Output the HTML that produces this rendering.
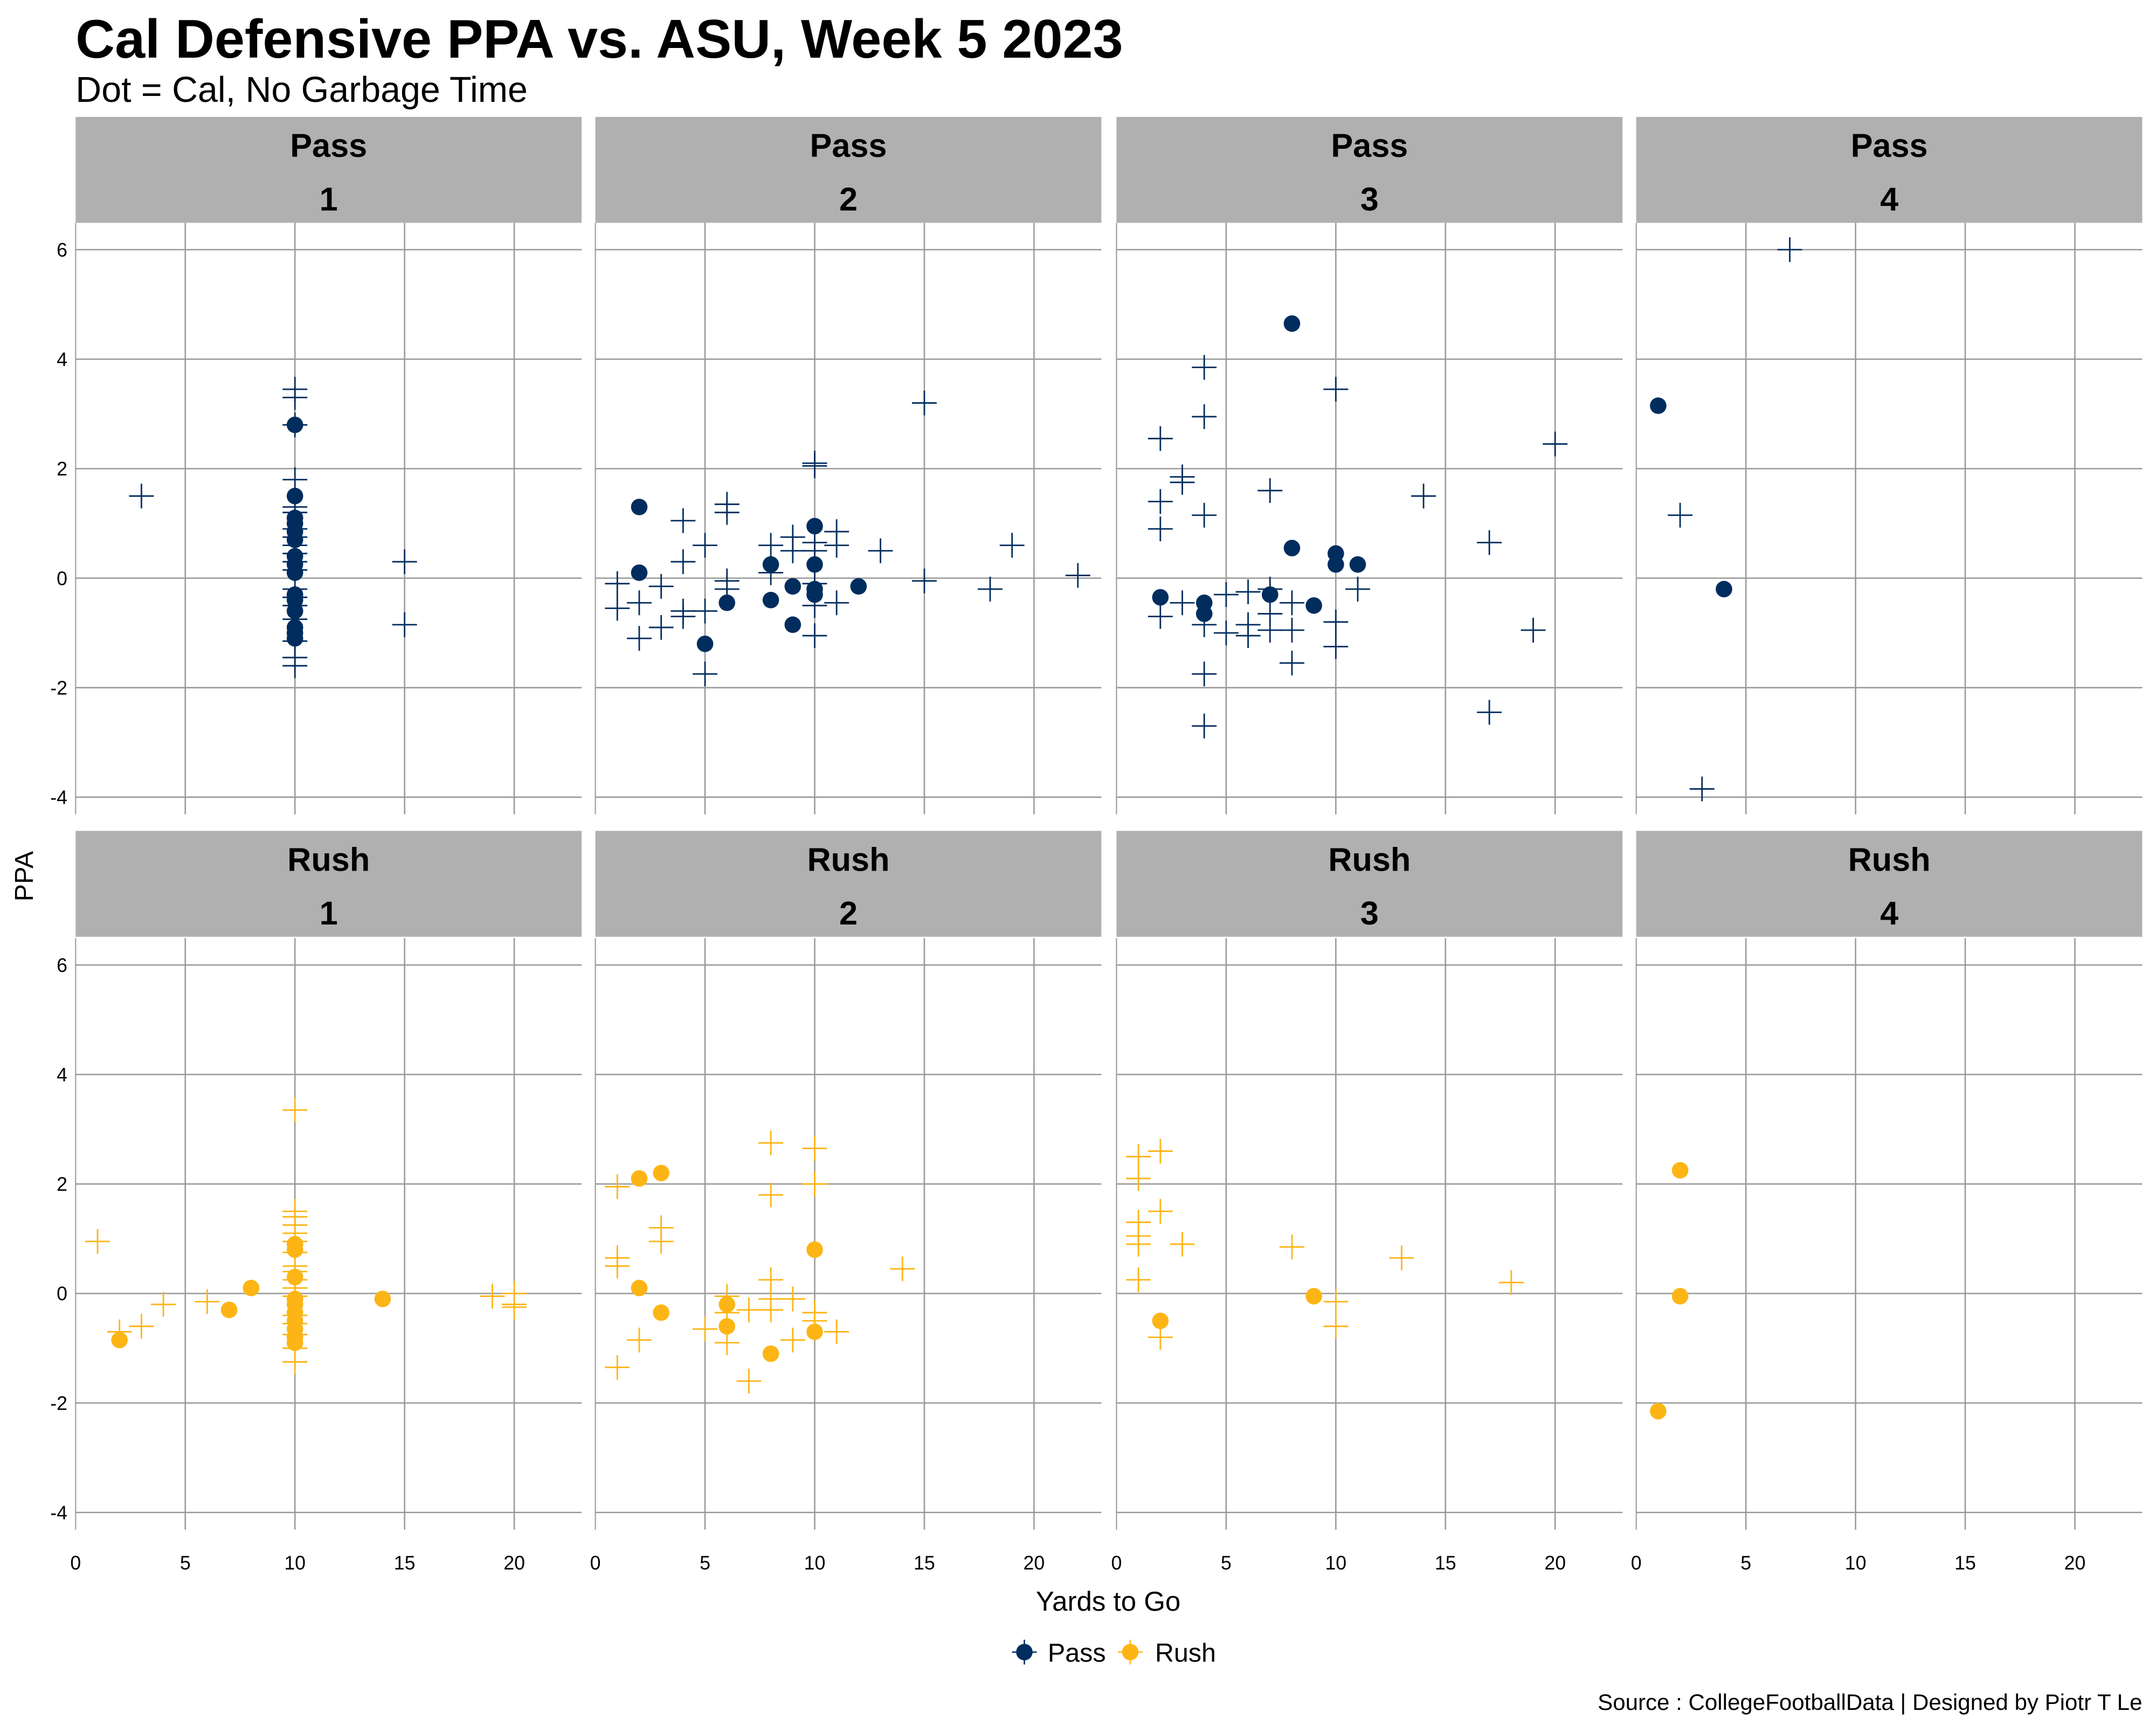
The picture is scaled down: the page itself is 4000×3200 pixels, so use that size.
<!DOCTYPE html>
<html><head><meta charset="utf-8"><style>
html,body{margin:0;padding:0;background:#fff;}
svg{display:block;font-family:"Liberation Sans",Arial,sans-serif;}
</style></head><body>
<svg id="chart" width="4000" height="3200" viewBox="0 0 1568 1254" preserveAspectRatio="none" xmlns="http://www.w3.org/2000/svg">
<rect width="1568" height="1254" fill="#fff"/>
<text x="55" y="42" font-size="39.5" font-weight="bold" fill="#000">Cal Defensive PPA vs. ASU, Week 5 2023</text>
<text x="55" y="74" font-size="26" fill="#000">Dot = Cal, No Garbage Time</text>
<text x="0" y="0" font-size="19" text-anchor="middle" transform="translate(24,637) rotate(-90)">PPA</text>
<text x="806" y="1171" font-size="20" text-anchor="middle">Yards to Go</text>
<g>
<g><circle cx="745" cy="1201" r="6" fill="#002d5e"/><line x1="736" y1="1201" x2="754" y2="1201" stroke="#002d5e"/><line x1="745" y1="1192" x2="745" y2="1210" stroke="#002d5e"/><text x="762" y="1208" font-size="19">Pass</text></g>
<g><circle cx="822" cy="1201" r="6" fill="#fdb515"/><line x1="813" y1="1201" x2="831" y2="1201" stroke="#fdb515"/><line x1="822" y1="1192" x2="822" y2="1210" stroke="#fdb515"/><text x="840" y="1208" font-size="19">Rush</text></g>
</g>
<text x="1558" y="1243" font-size="16.5" text-anchor="end">Source : CollegeFootballData | Designed by Piotr T Le</text>
<g id="panels"></g>
</svg>
<script>
// data: [yardsToGo, ppa]
const pass1Dots=[[10,2.8],[10,1.5],[10,1.1],[10,1.0],[10,0.85],[10,0.7],[10,0.4],[10,0.25],[10,0.1],[10,-0.3],[10,-0.4],[10,-0.6],[10,-0.9],[10,-1.0],[10,-1.1]];
const pass1Cross=[[10,3.45],[10,3.3],[10,2.8],[10,1.8],[10,1.3],[10,1.2],[10,0.9],[10,0.75],[10,0.6],[10,0.45],[10,0.3],[10,0.15],[10,-0.2],[10,-0.35],[10,-0.5],[10,-0.75],[10,-1.15],[10,-1.45],[10,-1.6],[3,1.5],[15,0.3],[15,-0.85]];
const pass2Dots=[[2,1.3],[2,0.1],[10,0.95],[8,0.25],[10,0.25],[6,-0.45],[8,-0.4],[9,-0.15],[10,-0.2],[10,-0.3],[12,-0.15],[5,-1.2],[9,-0.85]];
const pass2Cross=[[1,-0.1],[1,-0.55],[2,-0.45],[2,-1.1],[3,-0.15],[3,-0.9],[4,1.05],[4,0.3],[4,-0.6],[4,-0.7],[5,0.6],[5,-0.6],[5,-1.75],[6,1.35],[6,1.2],[6,-0.05],[6,-0.2],[8,0.6],[8,0.1],[9,0.75],[9,0.5],[10,2.1],[10,2.05],[10,0.65],[10,0.5],[10,-0.1],[10,-0.5],[10,-1.05],[11,0.85],[11,0.6],[11,-0.45],[13,0.5],[15,3.2],[15,-0.05],[18,-0.2],[19,0.6],[22,0.05]];
const pass3Dots=[[8,4.65],[8,0.55],[10,0.45],[10,0.25],[11,0.25],[2,-0.35],[4,-0.45],[4,-0.65],[7,-0.3],[9,-0.5]];
const pass3Cross=[[2,2.55],[2,1.4],[2,0.9],[2,-0.7],[3,1.85],[3,1.75],[3,-0.45],[4,3.85],[4,2.95],[4,1.15],[4,-0.85],[4,-1.75],[4,-2.7],[5,-0.3],[5,-1.0],[6,-0.25],[6,-0.85],[6,-1.05],[7,1.6],[7,-0.2],[7,-0.65],[7,-0.95],[8,-0.45],[8,-0.95],[8,-1.55],[10,3.45],[10,-0.8],[10,-1.25],[11,-0.2],[14,1.5],[17,0.65],[17,-2.45],[19,-0.95],[20,2.45]];
const pass4Dots=[[1,3.15],[4,-0.2]];
const pass4Cross=[[7,6.0],[2,1.15],[3,-3.85]];
const rush1Dots=[[2,-0.85],[7,-0.3],[8,0.1],[10,0.9],[10,0.8],[10,0.3],[10,-0.1],[10,-0.2],[10,-0.35],[10,-0.5],[10,-0.65],[10,-0.8],[10,-0.9],[14,-0.1]];
const rush1Cross=[[1,0.95],[2,-0.7],[3,-0.6],[4,-0.2],[6,-0.15],[10,3.35],[10,1.5],[10,1.4],[10,1.25],[10,1.1],[10,0.95],[10,0.75],[10,0.5],[10,0.4],[10,0.25],[10,0.1],[10,-0.05],[10,-0.4],[10,-0.55],[10,-0.75],[10,-1.0],[10,-1.25],[19,-0.05],[20,0.0],[20,-0.2],[20,-0.25]];
const rush2Dots=[[2,2.1],[3,2.2],[2,0.1],[3,-0.35],[6,-0.2],[6,-0.6],[8,-1.1],[10,0.8],[10,-0.7]];
const rush2Cross=[[1,1.95],[1,0.65],[1,0.5],[1,-1.35],[2,-0.85],[3,1.2],[3,0.95],[5,-0.65],[6,-0.05],[6,-0.35],[6,-0.9],[7,-0.3],[7,-1.6],[8,2.75],[8,1.8],[8,0.25],[8,-0.1],[8,-0.3],[9,-0.1],[9,-0.85],[10,2.65],[10,2.0],[10,-0.35],[10,-0.5],[11,-0.7],[14,0.45]];
const rush3Dots=[[9,-0.05],[2,-0.5]];
const rush3Cross=[[1,2.5],[1,2.1],[1,1.3],[1,1.05],[1,0.9],[1,0.25],[2,2.6],[2,1.5],[2,-0.8],[3,0.9],[8,0.85],[10,-0.15],[10,-0.6],[13,0.65],[18,0.2]];
const rush4Dots=[[2,2.25],[2,-0.05],[1,-2.15]];
const rush4Cross=[];
const xTicks=[0,5,10,15,20];
const yTicks=[-4,-2,0,2,4,6];
const downs=["1","2","3","4"];
const playTypes=["Pass","Rush"];

const NS="http://www.w3.org/2000/svg";
const root=document.getElementById('panels');
const colX0=[55,433,812,1190], panelW=368;
const rowStrip=[85,604], stripH=77, rowPlot=[162,682], plotH=430;
const colors={Pass:"#002d5e",Rush:"#fdb515"};
const data={Pass:[[pass1Dots,pass1Cross],[pass2Dots,pass2Cross],[pass3Dots,pass3Cross],[pass4Dots,pass4Cross]],
 Rush:[[rush1Dots,rush1Cross],[rush2Dots,rush2Cross],[rush3Dots,rush3Cross],[rush4Dots,rush4Cross]]};
function mk(tag,attrs,parent){const e=document.createElementNS(NS,tag);for(const k in attrs)e.setAttribute(k,attrs[k]);parent.appendChild(e);return e;}
const xPer=(374-55)/20, yPer=(580-182)/10;
playTypes.forEach((pt,r)=>{
 downs.forEach((d,c)=>{
  const x0=colX0[c], top=rowPlot[r];
  const sx=v=>x0+v*xPer;
  const sy=v=>top+20+(6-v)*yPer-0.5;
  const g=mk('g',{},root);
  
  
  const strip=mk('rect',{x:x0,y:rowStrip[r],width:panelW,height:stripH,fill:"#b0b0b0"},g);
  
  
  const t1=mk('text',{x:x0+panelW/2,y:rowStrip[r]+29,"font-size":24,"font-weight":"bold","text-anchor":"middle"},g);t1.textContent=pt;
  
  
  const t2=mk('text',{x:x0+panelW/2,y:rowStrip[r]+68,"font-size":24,"font-weight":"bold","text-anchor":"middle"},g);t2.textContent=d;
  
  
  yTicks.forEach(v=>{const l=mk('line',{x1:x0,x2:x0+panelW,y1:sy(v),y2:sy(v),stroke:"#999","stroke-width":1},g);
   
   
   if(c===0){const tl=mk('text',{x:x0-6,y:sy(v)+5,"font-size":14,"text-anchor":"end"},g);tl.textContent=v;
    
    }});
  xTicks.forEach(v=>{const l=mk('line',{x1:sx(v),x2:sx(v),y1:top,y2:top+plotH,stroke:"#999","stroke-width":v===0?0.8:1},g);
   
   
   if(r===1){const tl=mk('text',{x:sx(v),y:1141,"font-size":14,"text-anchor":"middle"},g);tl.textContent=v;
    
    }});
  const col=colors[pt];
  const [dots,crosses]=data[pt][c];
  crosses.forEach(p=>{const cx=sx(p[0]),cy=sy(p[1]);
   const m=mk('path',{d:`M${cx-9},${cy}H${cx+9}M${cx},${cy-9}V${cy+9}`,stroke:col,"stroke-width":1.1,fill:"none"},g);
   
   });
  dots.forEach(p=>{const m=mk('circle',{cx:sx(p[0]),cy:sy(p[1]),r:6,fill:col},g);
   
   });
 });
});
</script>
</body></html>
